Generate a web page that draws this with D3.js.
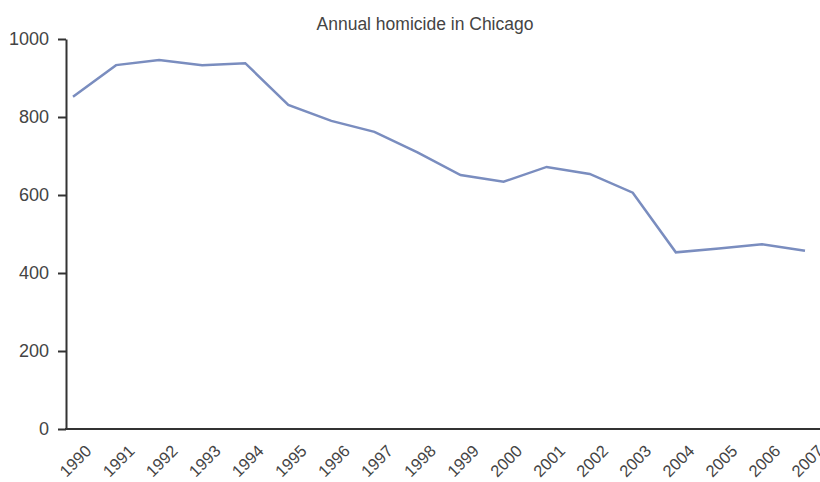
<!DOCTYPE html>
<html>
<head>
<meta charset="utf-8">
<script src="https://cdn.jsdelivr.net/npm/d3@7"></script>
<style>
  body { margin: 0; background: #fff; }
  text { font-family: "Liberation Sans", Arial, sans-serif; fill: #444; }
</style>
</head>
<body>
<div id="chart"></div>
<script>
// data
const years = [1990, 1991, 1992, 1993, 1994, 1995, 1996, 1997, 1998, 1999,
               2000, 2001, 2002, 2003, 2004, 2005, 2006, 2007];
const homicides = [852, 933, 946, 933, 938, 831, 790, 762, 709, 651,
                   634, 672, 654, 606, 453, 463, 474, 457];
const yTicks = [0, 200, 400, 600, 800, 1000];

const width = 820, height = 482;
const svg = d3.select("#chart").append("svg")
    .attr("width", width)
    .attr("height", height);

const x = d3.scalePoint()
    .domain(years)
    .range([73, 805]);

const y = d3.scaleLinear()
    .domain([0, 1000])
    .range([429, 39]);

// title
svg.append("text")
    .attr("x", 425)
    .attr("y", 30)
    .attr("text-anchor", "middle")
    .style("font-size", "17.5px")
    .text("Annual homicide in Chicago");

// y axis
const yAxis = svg.append("g")
    .attr("transform", "translate(66,0)")
    .call(d3.axisLeft(y).tickValues(yTicks).tickFormat(d3.format("d"))
        .tickSize(8).tickPadding(9).tickSizeOuter(0));
yAxis.select(".domain").attr("stroke", "#333").attr("stroke-width", 2);
yAxis.selectAll(".tick line").attr("stroke", "#333").attr("stroke-width", 2);
yAxis.selectAll(".tick text").style("font-size", "18px").attr("fill", "#444");

// x axis
const xAxis = svg.append("g")
    .attr("transform", "translate(0,429)")
    .call(d3.axisBottom(x).tickSize(0).tickPadding(0));
xAxis.select(".domain").remove();
xAxis.append("line")
    .attr("x1", 65).attr("x2", width)
    .attr("stroke", "#333").attr("stroke-width", 2);
xAxis.selectAll(".tick text")
    .style("font-size", "16.5px")
    .attr("fill", "#444")
    .attr("text-anchor", "middle")
    .attr("dy", "0.35em")
    .attr("transform", "translate(2,32) rotate(-45)");

// line
const line = d3.line()
    .x((d, i) => x(years[i]))
    .y(d => y(d));

svg.append("path")
    .datum(homicides)
    .attr("fill", "none")
    .attr("stroke", "#7a8dbf")
    .attr("stroke-width", 2.5)
    .attr("d", line);
</script>
</body>
</html>
